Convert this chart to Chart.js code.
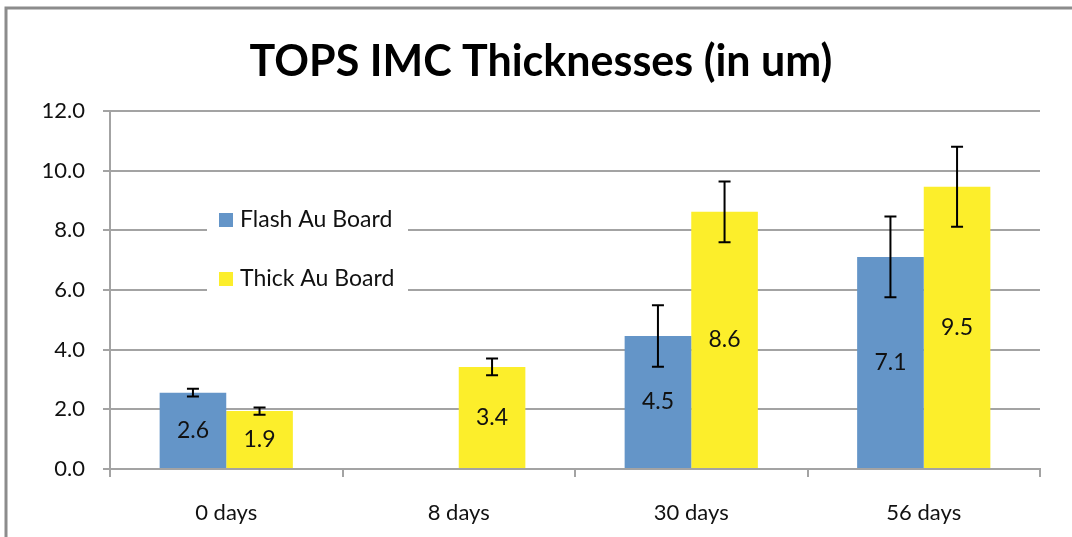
<!DOCTYPE html>
<html>
<head>
<meta charset="utf-8">
<script src="https://cdn.jsdelivr.net/npm/chart.js@4/dist/chart.umd.min.js"></script>
<style>
  html, body { margin: 0; padding: 0; background: #fff; }
  #wrap { position: relative; width: 1072px; height: 537px; }
</style>
</head>
<body>
<div id="wrap"><canvas id="chart"></canvas></div>
<script>
// data
const categories = ['0 days', '8 days', '30 days', '56 days'];
const flashValues = [2.56, null, 4.46, 7.11];
const thickValues = [1.94, 3.42, 8.62, 9.46];
const flashErrors = [0.13, null, 1.03, 1.35];
const thickErrors = [0.12, 0.28, 1.02, 1.34];
const seriesNames = ['Flash Au Board', 'Thick Au Board'];
const chartTitle = 'TOPS IMC Thicknesses (in um)';

const FONT = 'Lato, "Liberation Sans", sans-serif';
const GRID = '#a3a3a3';
const TEXT = '#111';
const BLUE = '#6495c8';
const YELLOW = '#fcee2b';

// outer frame of the original picture (top and left edges only) + title
const framePlugin = {
  id: 'frame',
  beforeDraw(chart) {
    const ctx = chart.ctx;
    ctx.save();
    ctx.strokeStyle = '#8c8c8c';
    ctx.lineWidth = 3;
    ctx.beginPath();
    ctx.moveTo(6, chart.height);
    ctx.lineTo(6, 8);
    ctx.lineTo(chart.width, 8);
    ctx.stroke();
    ctx.fillStyle = '#000';
    ctx.font = 'bold 43px ' + FONT;
    ctx.textAlign = 'center';
    ctx.textBaseline = 'middle';
    ctx.fillText(chartTitle, 541, 62);
    ctx.restore();
  }
};

const errorBarPlugin = {
  id: 'errorBars',
  afterDatasetsDraw(chart) {
    const ctx = chart.ctx;
    const y = chart.scales.y;
    const errs = [flashErrors, thickErrors];
    ctx.save();
    ctx.strokeStyle = '#000';
    ctx.lineWidth = 2;
    chart.data.datasets.forEach((ds, i) => {
      const meta = chart.getDatasetMeta(i);
      meta.data.forEach((bar, j) => {
        const v = ds.data[j];
        const e = errs[i][j];
        if (v == null || e == null) return;
        const top = y.getPixelForValue(v + e);
        const bot = y.getPixelForValue(v - e);
        ctx.beginPath();
        ctx.moveTo(bar.x, top); ctx.lineTo(bar.x, bot);
        ctx.moveTo(bar.x - 6, top); ctx.lineTo(bar.x + 6, top);
        ctx.moveTo(bar.x - 6, bot); ctx.lineTo(bar.x + 6, bot);
        ctx.stroke();
      });
    });
    ctx.restore();
  }
};

const valueLabelPlugin = {
  id: 'valueLabels',
  afterDatasetsDraw(chart) {
    const ctx = chart.ctx;
    ctx.save();
    ctx.font = '23px ' + FONT;
    ctx.fillStyle = TEXT;
    ctx.textAlign = 'center';
    ctx.textBaseline = 'middle';
    chart.data.datasets.forEach((ds, i) => {
      chart.getDatasetMeta(i).data.forEach((bar, j) => {
        const v = ds.data[j];
        if (v == null) return;
        ctx.fillText(v.toFixed(1), bar.x, (bar.y + bar.base) / 2);
      });
    });
    ctx.restore();
  }
};

// legend sits inside the plot, over the grid lines
const insideLegendPlugin = {
  id: 'insideLegend',
  afterDraw(chart) {
    const ctx = chart.ctx;
    ctx.save();
    ctx.fillStyle = '#fff';
    ctx.fillRect(207, 190, 201, 120);
    ctx.font = '23px ' + FONT;
    ctx.textBaseline = 'middle';
    ctx.textAlign = 'left';
    const rows = [220, 279];
    chart.data.datasets.forEach((ds, i) => {
      ctx.fillStyle = ds.backgroundColor;
      ctx.fillRect(219, rows[i] - 7, 14, 14);
      ctx.fillStyle = TEXT;
      ctx.fillText(seriesNames[i], 240, rows[i]);
    });
    ctx.restore();
  }
};

new Chart(document.getElementById('chart'), {
  type: 'bar',
  data: {
    labels: categories,
    datasets: [
      { label: seriesNames[0], data: flashValues, backgroundColor: BLUE },
      { label: seriesNames[1], data: thickValues, backgroundColor: YELLOW }
    ]
  },
  options: {
    responsive: true,
    maintainAspectRatio: false,
    animation: false,
    datasets: { bar: { barPercentage: 1, categoryPercentage: 0.573 } },
    layout: { padding: { left: 0, right: 32, top: 111, bottom: 0 } },
    scales: {
      x: {
        afterFit(scale) { scale.height = 68; },
        grid: { display: true, drawOnChartArea: false, drawTicks: true, tickLength: 8, offset: true, color: GRID, lineWidth: 2 },
        border: { display: true, color: GRID, width: 2 },
        ticks: { color: TEXT, font: { family: FONT, size: 22 }, padding: 23 }
      },
      y: {
        min: 0,
        max: 12,
        afterFit(scale) { scale.width = 110; },
        grid: { color: GRID, lineWidth: 2, tickLength: 7 },
        border: { display: true, color: GRID, width: 2 },
        ticks: {
          stepSize: 2,
          padding: 18,
          color: TEXT,
          font: { family: FONT, size: 22 },
          callback: v => v.toFixed(1)
        }
      }
    },
    plugins: {
      legend: { display: false },
      tooltip: { enabled: false },
      title: { display: false }
    }
  },
  plugins: [framePlugin, errorBarPlugin, valueLabelPlugin, insideLegendPlugin]
});
</script>
</body>
</html>
